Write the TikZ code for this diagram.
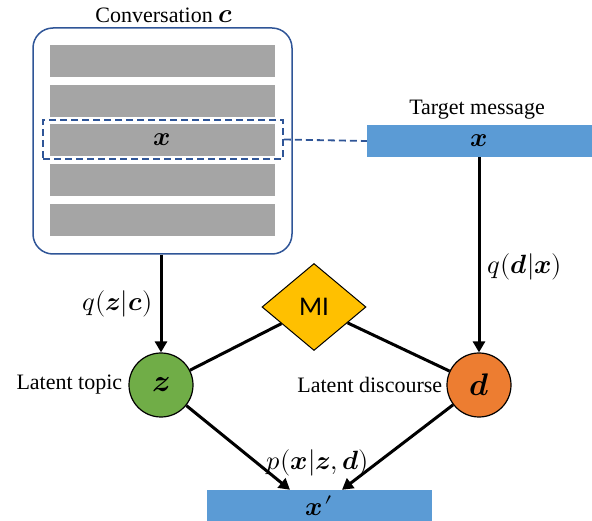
\documentclass[tikz,border=0pt]{standalone}
\usepackage{amsmath}
\usepackage{fontspec}
\usepackage{unicode-math}
\setmainfont{Liberation Serif}
\setmathfont{Latin Modern Math}[Scale=1.2]
\newfontfamily\mifont{Carlito}
\usetikzlibrary{shapes.geometric,arrows.meta}

\definecolor{boxblue}{HTML}{2F5597}
\definecolor{msggray}{HTML}{A5A5A5}
\definecolor{msgblue}{HTML}{5B9BD5}
\definecolor{topicgreen}{HTML}{70AD47}
\definecolor{discorange}{HTML}{ED7D31}
\definecolor{migold}{HTML}{FFC000}

\begin{document}
\begin{tikzpicture}[x=1pt,y=-1pt,
    every node/.style={inner sep=0pt, font=\fontsize{22}{26}\selectfont},
    msgbar/.style={fill=msggray, minimum width=225pt, minimum height=32pt},
    outbar/.style={fill=msgblue, minimum width=225pt, minimum height=32pt},
    latent/.style={circle, draw=black, line width=1.2pt, minimum size=64pt,
        font=\fontsize{26}{30}\selectfont},
    arr/.style={line width=3pt, -{Triangle[length=11pt,width=12pt]}},
    link/.style={line width=3pt}]
    \useasboundingbox (0,0) rectangle (592,521);

    % conversation with its messages
    \node (conv) [draw=boxblue, line width=1.5pt, rounded corners=20pt,
        minimum width=259pt, minimum height=226pt] at (162.5,141) {};
    \node (convlbl) at (164,15) {Conversation $\symbfit{c}$};
    \node (m1) [msgbar] at (162.5,61) {};
    \node (m2) [msgbar] at (162.5,101) {};
    \node (m3) [msgbar] at (162.5,140) {$\symbfit{x}$};
    \node (m4) [msgbar] at (162.5,180.5) {};
    \node (m5) [msgbar] at (162.5,220) {};
    \node (sel) [draw=boxblue, line width=1.8pt, dash pattern=on 7pt off 4pt,
        minimum width=240pt, minimum height=39pt] at (163,139.5) {};

    % target message
    \node (tgt) [outbar] at (479.5,141) {$\symbfit{x}$};
    \node (tgtlbl) at (477,110) {Target message};
    \draw [boxblue, line width=1.8pt, dash pattern=on 7pt off 4pt] (sel.east) -- (tgt.west);

    % latent variables
    \node (z) [latent, fill=topicgreen] at (161,385) {$\symbfit{z}$};
    \node (d) [latent, fill=discorange] at (479,385) {$\symbfit{d}$};
    \node (topiclbl) [anchor=east] at ([xshift=-6pt]z.west) {Latent topic};
    \node (disclbl) [anchor=east] at ([xshift=-4pt]d.west) {Latent discourse};
    \node (mi) [diamond, draw=black, line width=1pt, fill=migold,
        minimum width=104pt, minimum height=87pt,
        font=\mifont\fontsize{27}{30}\selectfont] at (314,307) {MI};

    % reconstruction
    \node (xp) [outbar, minimum height=31pt] at (319.5,505.5) {$\symbfit{x}\mkern1mu\prime$};

    \draw [arr] (z |- conv.south) -- (z.north)
        node [midway, left=7pt] (qzc) {$q(\symbfit{z}|\symbfit{c})$};
    \draw [arr] (d |- tgt.south) -- (d.north)
        node [pos=0.56, right=7pt] (qdx) {$q(\symbfit{d}|\symbfit{x})$};
    \draw [link] (z) -- (mi);
    \draw [link] (d) -- (mi);
    \draw [arr] (z) -- ([xshift=-29.5pt]xp.north);
    \draw [arr] (d) -- ([xshift=22.5pt]xp.north);
    \node (pxzd) at (318,463) {$p(\symbfit{x}|\symbfit{z},\symbfit{d})$};
\end{tikzpicture}
\end{document}
